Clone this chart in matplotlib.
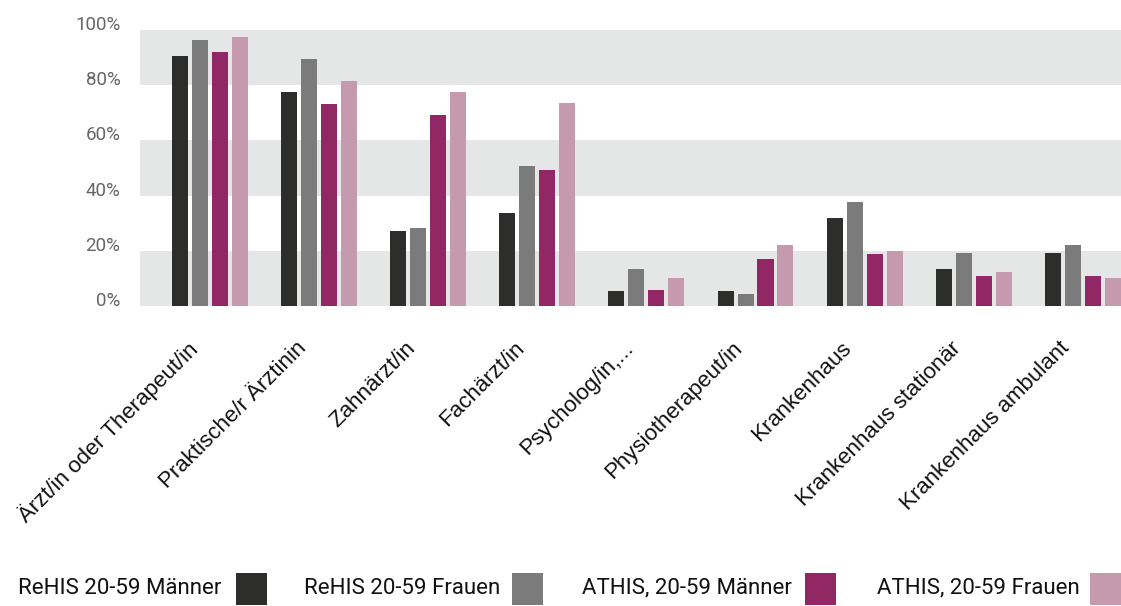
#!/usr/bin/env python
import matplotlib
matplotlib.use("Agg")
import matplotlib.pyplot as plt
from matplotlib.patches import Rectangle
import numpy as np

categories = ["Ärzt/in oder Therapeut/in", "Praktische/r Ärztinin", "Zahnärzt/in",
              "Fachärzt/in", "Psycholog/in,...", "Physiotherapeut/in", "Krankenhaus",
              "Krankenhaus stationär", "Krankenhaus ambulant"]

rehis_m = [90.6, 77.5, 27.2, 33.7, 5.4, 5.4, 31.9, 13.4, 19.2]
rehis_f = [96.4, 89.5, 28.3, 50.7, 13.4, 4.3, 37.7, 19.2, 22.1]
athis_m = [92.0, 73.2, 69.2, 49.3, 5.8, 17.0, 18.8, 10.9, 10.9]
athis_f = [97.5, 81.5, 77.5, 73.6, 10.1, 22.1, 19.9, 12.3, 10.1]

series_names = ["ReHIS 20-59 Männer", "ReHIS 20-59 Frauen",
                "ATHIS, 20-59 Männer", "ATHIS, 20-59 Frauen"]
colors = ["#2d2d2b", "#7b7b7b", "#912765", "#c599ae"]
yticks = [0, 20, 40, 60, 80, 100]

fig = plt.figure(figsize=(11.21, 6.06), dpi=100)
ax = fig.add_axes([140/1121, 1 - 306/606, 1 - 140/1121, 276/606])

band_col = "#e5e7e6"
for lo in (0, 40, 80):
    ax.axhspan(lo, lo + 20, color=band_col, lw=0, zorder=0)

x = np.arange(len(categories))
step = 0.183
width = 0.147
for i, (vals, c) in enumerate(zip([rehis_m, rehis_f, athis_m, athis_f], colors)):
    ax.bar(x + (i - 1.5) * step, vals, width=width, color=c, zorder=2)

ax.set_xlim(-0.642, 8.35)
ax.set_ylim(0, 100)
for s in ax.spines.values():
    s.set_visible(False)

ax.set_yticks(yticks)
ax.set_yticklabels([f"{v}%" for v in yticks], fontsize=13.5, color="#666666",
                   family="Roboto", va="baseline")
ax.tick_params(axis="y", length=0, pad=14)

ax.set_xticks(x - 0.215)
ax.set_xticklabels(categories, rotation=45, ha="right", rotation_mode="anchor",
                   fontsize=16, family="Liberation Sans", color="#111111")
ax.tick_params(axis="x", length=0, pad=23)

# legend: text followed by a colour square
legend_text_x = [18, 304, 582, 877]
legend_box_x = [236, 512, 805, 1090]
for name, c, tx, bx in zip(series_names, colors, legend_text_x, legend_box_x):
    fig.text(tx/1121, 1 - 588/606, name, fontsize=16, family="Roboto",
             color="#111111", va="center", ha="left")
    fig.add_artist(Rectangle((bx/1121, 1 - 605/606), 31/1121, 32/606,
                             transform=fig.transFigure, color=c, lw=0))

fig.savefig("out.png", dpi=100)
